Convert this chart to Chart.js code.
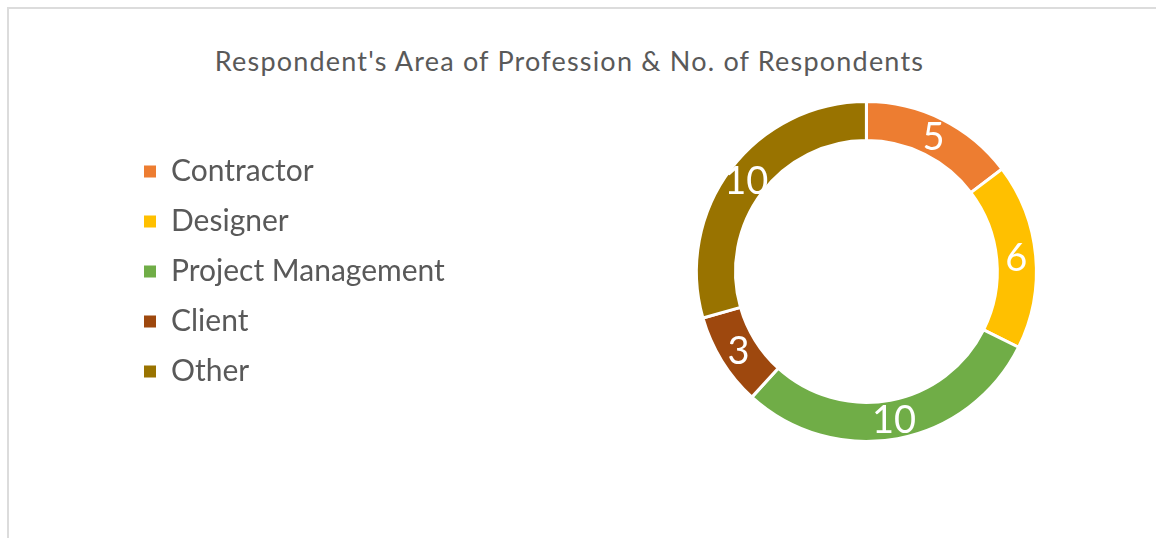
<!DOCTYPE html>
<html>
<head>
<meta charset="utf-8">
<script src="https://cdn.jsdelivr.net/npm/chart.js@4.4.1/dist/chart.umd.min.js"></script>
<style>
  html, body { margin: 0; padding: 0; background: #fff; overflow: hidden; }
  #wrap { position: relative; width: 1156px; height: 538px; overflow: hidden; }
  #frame {
    position: absolute; left: 7px; top: 7px; width: 1170px; height: 560px;
    border: 2px solid #dcdcdc; box-sizing: border-box;
  }
  #title {
    position: absolute; left: 0; top: 47px; width: 1139px; text-align: center;
    font-family: Lato, sans-serif; font-size: 27px; line-height: 27px;
    letter-spacing: 1.2px; color: #595959; white-space: nowrap;
  }
  #chart { position: absolute; left: 0; top: 0; }
</style>
</head>
<body>
<div id="wrap">
  <div id="frame"></div>
  <div id="title">Respondent's Area of Profession &amp; No. of Respondents</div>
  <canvas id="chart" width="1278" height="538"></canvas>
</div>
<script>
const professions = ["Contractor", "Designer", "Project Management", "Client", "Other"];
const respondents = [5, 6, 10, 3, 10];
const sliceColors = ["#ED7D31", "#FFC000", "#70AD47", "#9E480E", "#997300"];

// white numbers in the middle of each ring segment
const sliceLabels = {
  id: "sliceLabels",
  afterDatasetsDraw(chart) {
    const ctx = chart.ctx;
    const meta = chart.getDatasetMeta(0);
    ctx.save();
    ctx.fillStyle = "#ffffff";
    ctx.font = "38px Lato, sans-serif";
    ctx.textAlign = "center";
    ctx.textBaseline = "middle";
    meta.data.forEach((arc, i) => {
      const pos = arc.tooltipPosition();
      ctx.fillText(String(respondents[i]), pos.x, pos.y + 1);
    });
    ctx.restore();
  }
};

new Chart(document.getElementById("chart"), {
  type: "doughnut",
  data: {
    labels: professions,
    datasets: [
      {
        data: respondents,
        backgroundColor: sliceColors,
        borderColor: "#ffffff",
        borderWidth: 3
      }
    ]
  },
  options: {
    responsive: false,
    animation: false,
    events: [],
    cutout: "77%",
    layout: {
      padding: { left: 124, right: 0, top: 100, bottom: 95 }
    },
    plugins: {
      title: { display: false },
      tooltip: { enabled: false },
      legend: {
        position: "left",
        labels: {
          boxWidth: 12,
          boxHeight: 12,
          padding: 20,
          color: "#595959",
          font: { family: "Lato, sans-serif", size: 30 },
          generateLabels(chart) {
            return Chart.overrides.doughnut.plugins.legend.labels
              .generateLabels(chart)
              .map((item) => ({ ...item, lineWidth: 0 }));
          }
        }
      }
    }
  },
  plugins: [sliceLabels]
});
</script>
</body>
</html>
